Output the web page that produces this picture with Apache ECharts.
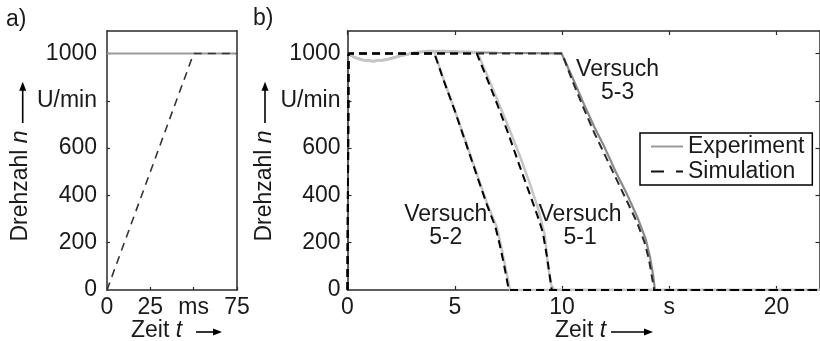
<!DOCTYPE html>
<html><head><meta charset="utf-8">
<script src="https://cdn.jsdelivr.net/npm/echarts@6/dist/echarts.min.js"></script>
<style>html,body{margin:0;padding:0;background:#fff}#c{width:820px;height:341px}</style>
</head><body><div id="c"></div>
<script>
// ---- tick values / labels ----
const aXTicks = [0, 25, 50, 75];
const aXTickLabels = ['0', '25', 'ms', '75'];
const yTicks = [0, 200, 400, 600, 800, 1000];
const yTickLabels = ['0', '200', '400', '600', 'U/min', '1000'];
const bXTicks = [0, 5, 10, 15, 20];
const bXTickLabels = ['0', '5', '10', 's', '20'];
const legendNames = ['Experiment', 'Simulation'];

// ---- panel a) data: time in ms, speed in U/min ----
const aExperiment = [[0, 1000], [75, 1000]];
const aSimulation = [[0, 0], [50, 1000], [75, 1000]];

// ---- panel b) data: time in s, speed in U/min ----
const exp52 = [[0,1000],[0.3,984],[0.7,972],[1.2,967],[1.8,973],[2.5,990],[3.2,1005],[3.8,1010],[4.05,1006],[4.5,885],[5,760],[5.5,630],[6,498],[6.5,368],[6.95,268],[7.15,190],[7.35,100],[7.58,0],[22,0]];
const sim52 = [[0,0],[0.05,1000],[4.05,1000],[4.5,882],[5,758],[5.5,625],[6,492],[6.5,360],[6.9,265],[7.1,190],[7.3,105],[7.52,0],[22,0]];
const exp51 = [[0,1000],[0.3,984],[0.7,972],[1.2,967],[1.8,973],[2.5,990],[3.2,1005],[3.8,1010],[4.5,1010],[5.2,1008],[6.05,1006],[6.5,910],[7,800],[7.5,690],[8,575],[8.5,450],[8.9,340],[9.2,230],[9.35,100],[9.5,20],[9.65,0],[22,0]];
const sim51 = [[0,0],[0.05,1000],[6.02,1000],[6.5,895],[7,780],[7.5,660],[8,530],[8.5,405],[8.85,315],[9.1,245],[9.3,140],[9.52,0],[22,0]];
const exp53 = [[0,1000],[0.3,985],[0.7,973],[1.2,968],[1.8,974],[2.5,991],[3.2,1004],[3.8,1008],[5,1006],[7,1003],[9,1001],[9.98,1000],[10.5,895],[11,790],[11.5,690],[12,600],[12.5,500],[13,410],[13.5,310],[13.9,215],[14.1,140],[14.25,60],[14.33,0],[22,0]];
const sim53 = [[0,0],[0.05,1000],[10,1000],[10.5,880],[11,770],[11.5,665],[12,570],[12.5,475],[13,380],[13.5,285],[13.85,200],[14.05,130],[14.2,50],[14.3,0],[22,0]];

const annotations = [
  { text: 'Versuch\n5-2', t: 4.58, n: 268 },
  { text: 'Versuch\n5-1', t: 10.84, n: 268 },
  { text: 'Versuch\n5-3', t: 12.59, n: 883 }
];

const FONT = '"Liberation Sans", Arial, sans-serif';
const FS = 23;
const TXT = '#1a1a1a';
const FRAME = '#2a2a2a';
const NOSYM = { color: 'rgba(0,0,0,0)', borderColor: 'rgba(0,0,0,0)', borderWidth: 0, opacity: 0 };

function xAx(gridIndex, max, ticks, labels, pos, showLabel, showTick, tickLen) {
  return {
    type: 'value', gridIndex, min: 0, max, position: pos,
    axisLine: { show: true, onZero: false, lineStyle: { color: FRAME, width: 1.5 } },
    splitLine: { show: false },
    axisTick: { show: showTick, inside: true, length: tickLen, customValues: ticks, lineStyle: { color: FRAME, width: 1.2 } },
    axisLabel: { show: showLabel, customValues: ticks, margin: 6, color: TXT, fontSize: FS, fontFamily: FONT,
      formatter: v => labels[ticks.indexOf(v)] ?? '' }
  };
}
function yAx(gridIndex, max, pos, showLabel, showTick, tickLen, margin) {
  return {
    type: 'value', gridIndex, min: 0, max, position: pos,
    axisLine: { show: true, onZero: false, lineStyle: { color: FRAME, width: 1.5 } },
    splitLine: { show: false },
    axisTick: { show: showTick, inside: true, length: tickLen, customValues: yTicks.slice(1), lineStyle: { color: FRAME, width: 1.2 } },
    axisLabel: { show: showLabel, customValues: yTicks, margin, color: TXT, fontSize: FS, fontFamily: FONT,
      formatter: v => yTickLabels[yTicks.indexOf(v)] ?? '' }
  };
}

function line(name, xi, yi, data, color, width, dashed) {
  return {
    type: 'line', name, xAxisIndex: xi, yAxisIndex: yi, data, symbol: 'none', silent: true,
    animation: false, z: dashed ? 3 : 2,
    itemStyle: { color },
    lineStyle: { color, width, type: dashed || 'solid', cap: 'butt' }
  };
}

const chart = echarts.init(document.getElementById('c'), null, { renderer: 'canvas' });
const option = {
  animation: false,
  backgroundColor: '#fff',
  grid: [
    { left: 107, top: 31, width: 130, height: 259 },
    { left: 347.5, top: 31, width: 472, height: 259 }
  ],
  xAxis: [
    xAx(0, 75, aXTicks, aXTickLabels, 'bottom', true, true, 3),
    xAx(0, 75, aXTicks, aXTickLabels, 'top', false, false, 3),
    xAx(1, 22, bXTicks, bXTickLabels, 'bottom', true, true, 4),
    xAx(1, 22, bXTicks, bXTickLabels, 'top', false, true, 4)
  ],
  yAxis: [
    yAx(0, 1095, 'left', true, true, 3, 10),
    yAx(0, 1095, 'right', false, false, 3, 10),
    yAx(1, 1095, 'left', true, true, 4, 7),
    yAx(1, 1095, 'right', false, true, 4, 7)
  ],
  legend: {
    show: true, selectedMode: false, orient: 'vertical',
    left: 640, top: 133, padding: [1, 8, 1, 10], itemGap: 0,
    itemWidth: 32, itemHeight: 25,
    borderColor: '#000', borderWidth: 1.5, backgroundColor: '#fff',
    textStyle: { color: TXT, fontSize: FS, fontFamily: FONT, lineHeight: 25 },
    data: [
      { name: legendNames[0], itemStyle: NOSYM, lineStyle: { color: '#9a9a9a', width: 2, type: 'solid' } },
      { name: legendNames[1], itemStyle: NOSYM, lineStyle: { color: '#111', width: 2, type: [13, 12] } }
    ]
  },
  series: [
    line(legendNames[0], 0, 0, aExperiment, '#9a9a9a', 2, null),
    line(legendNames[1], 0, 0, aSimulation, '#333', 1.6, [8, 6]),
    line(legendNames[0], 2, 2, exp53, '#8a8a8a', 2.2, null),
    line(legendNames[0], 2, 2, exp51, '#c6c6c6', 2.5, null),
    line(legendNames[0], 2, 2, exp52, '#c6c6c6', 2.5, null),
    line(legendNames[1], 2, 2, sim53, '#2a2a2a', 2, [8, 5]),
    line(legendNames[1], 2, 2, sim51, '#000', 2, [8, 5]),
    line(legendNames[1], 2, 2, sim52, '#000', 2, [8, 5])
  ]
};
chart.setOption(option);

function arrowUp(x, y1, y2) {
  return [
    { type: 'line', shape: { x1: x, y1: y1, x2: x, y2: y2 + 7 }, style: { stroke: '#000', lineWidth: 1.6 } },
    { type: 'polygon', shape: { points: [[x, y2], [x - 3.5, y2 + 9], [x + 3.5, y2 + 9]] }, style: { fill: '#000' } }
  ];
}
function arrowRight(x1, x2, y) {
  return [
    { type: 'line', shape: { x1: x1, y1: y, x2: x2 - 7, y2: y }, style: { stroke: '#000', lineWidth: 1.6 } },
    { type: 'polygon', shape: { points: [[x2, y], [x2 - 9, y - 3.5], [x2 - 9, y + 3.5]] }, style: { fill: '#000' } }
  ];
}
const rich = { i: { fontStyle: 'italic', fontSize: FS, fontFamily: FONT, fill: TXT } };
function yLabel(x, yc) {
  return { type: 'text', x: x, y: yc, rotation: Math.PI / 2,
    style: { text: 'Drehzahl {i|n}', rich, fontSize: FS, fontFamily: FONT, fill: TXT, align: 'center', verticalAlign: 'middle' } };
}
function xLabel(x, yc) {
  return { type: 'text', x: x, y: yc,
    style: { text: 'Zeit {i|t}', rich, fontSize: FS, fontFamily: FONT, fill: TXT, align: 'left', verticalAlign: 'middle' } };
}

const graphics = [
  { type: 'text', x: 6, y: 20, style: { text: 'a)', fontSize: FS, fontFamily: FONT, fill: TXT, verticalAlign: 'middle' } },
  { type: 'text', x: 253, y: 19, style: { text: 'b)', fontSize: FS, fontFamily: FONT, fill: TXT, verticalAlign: 'middle' } },
  yLabel(21, 186), ...arrowUp(22.7, 123, 81.7),
  yLabel(265, 186), ...arrowUp(265, 123, 81.7),
  xLabel(131, 331), ...arrowRight(196, 222, 332),
  xLabel(555, 331), ...arrowRight(611, 653, 332)
];
annotations.forEach(a => {
  const p = chart.convertToPixel({ gridIndex: 1 }, [a.t, a.n]);
  graphics.push({ type: 'text', x: p[0], y: p[1],
    style: { text: a.text, fontSize: FS, fontFamily: FONT, fill: TXT, align: 'center', verticalAlign: 'middle', lineHeight: 23 } });
});
chart.setOption({ graphic: graphics });
</script>
</body></html>
